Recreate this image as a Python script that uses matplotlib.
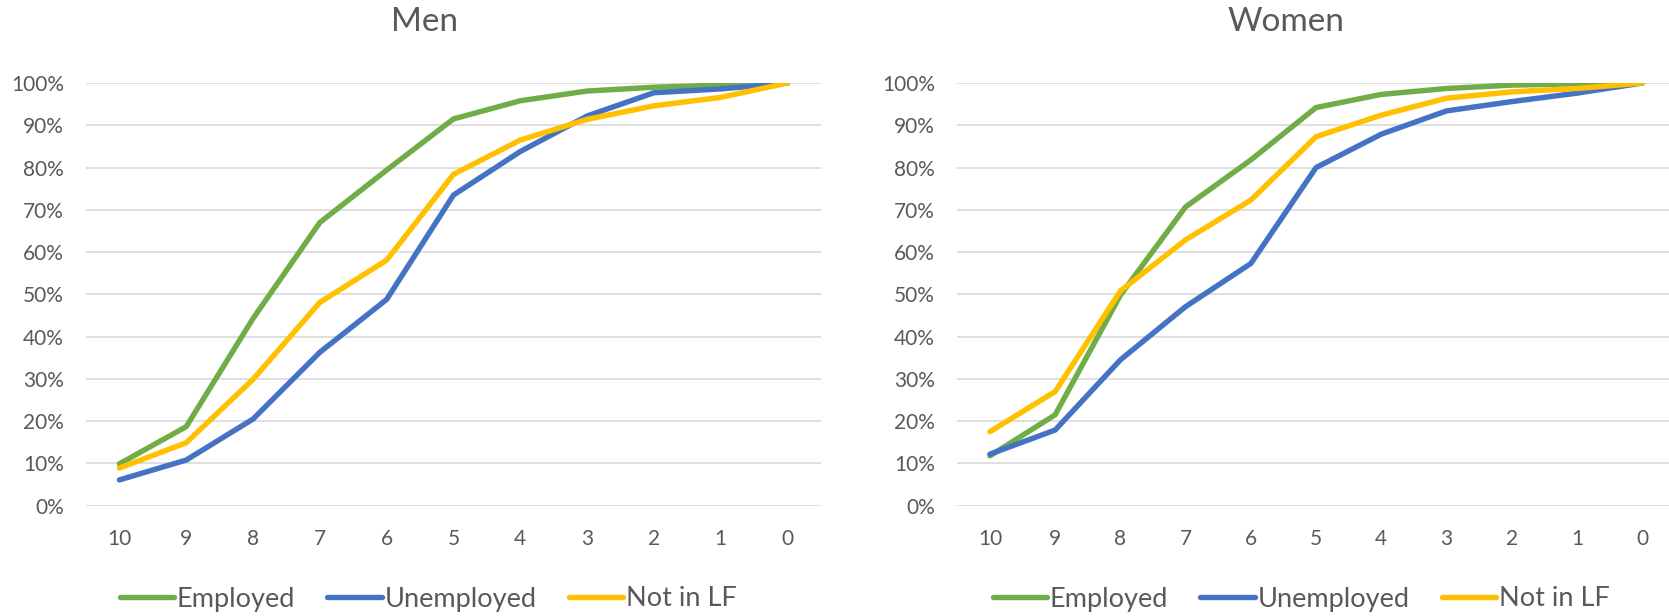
import matplotlib
matplotlib.use('Agg')
import matplotlib.pyplot as plt
from matplotlib.ticker import PercentFormatter

plt.rcParams['font.family'] = ['Lato', 'DejaVu Sans']

categories = ['10', '9', '8', '7', '6', '5', '4', '3', '2', '1', '0']

men_employed = [9.9, 18.7, 44.3, 67.0, 79.4, 91.5, 95.8, 98.1, 99.0, 99.5, 100]
men_unemployed = [6.1, 10.8, 20.5, 36.3, 48.8, 73.5, 83.8, 92.2, 97.7, 98.6, 100]
men_not_lf = [8.9, 14.9, 29.9, 48.1, 58.1, 78.4, 86.5, 91.4, 94.6, 96.6, 100]

women_employed = [11.8, 21.5, 49.8, 70.7, 81.8, 94.2, 97.3, 98.7, 99.5, 99.8, 100]
women_unemployed = [12.2, 17.9, 34.5, 47.1, 57.3, 80.0, 87.9, 93.4, 95.6, 97.6, 100]
women_not_lf = [17.5, 27.0, 50.8, 62.9, 72.3, 87.3, 92.4, 96.4, 97.9, 98.7, 100]

series_names = ['Employed', 'Unemployed', 'Not in LF']
colors = ['#70AD47', '#4472C4', '#FFC000']
grey = '#595959'

W, H = 1669, 616
fig = plt.figure(figsize=(W / 100, H / 100), dpi=100)

bottom = 1 - 505.7 / H
height = (505.7 - 83) / H
ax1 = fig.add_axes([86 / W, bottom, (821 - 86) / W, height])
ax2 = fig.add_axes([957.3 / W, bottom, (W - 957.3) / W, height])

x = range(len(categories))
panels = [
    (ax1, [men_employed, men_unemployed, men_not_lf], 'Men', 425, 10.5, 428),
    (ax2, [women_employed, women_unemployed, women_not_lf], 'Women', 1286, 10.41, 1301),
]

for ax, data, title, tx, xmax, lx in panels:
    for vals, c, name in zip(data, colors, series_names):
        ax.plot(x, vals, color=c, lw=3.9, label=name, solid_capstyle='round', zorder=3)
    ax.set_xlim(-0.5, xmax)
    ax.set_ylim(0, 100)
    ax.set_yticks(range(0, 101, 10))
    ax.yaxis.set_major_formatter(PercentFormatter(decimals=0))
    ax.set_xticks(list(x))
    ax.set_xticklabels(categories)
    ax.grid(axis='y', color='#D9D9D9', lw=1.2, zorder=0)
    ax.set_axisbelow(True)
    for s in ax.spines.values():
        s.set_visible(False)
    ax.tick_params(axis='y', length=0, pad=16, labelsize=15, labelcolor=grey)
    ax.tick_params(axis='x', length=0, pad=17, labelsize=15, labelcolor=grey)
    fig.text(tx / W, 1 - 22 / H, title, ha='center', va='center', fontsize=24, color=grey)

    handles, labels = ax.get_legend_handles_labels()
    leg = fig.legend(handles, labels, loc='center', ncol=3, frameon=False,
                     bbox_to_anchor=(lx / W, 1 - 599 / H),
                     fontsize=19.5, handlelength=2.0, handletextpad=0.1, columnspacing=1.2)
    for t in leg.get_texts():
        t.set_color(grey)

fig.savefig('out.png', dpi=100, facecolor='white')
